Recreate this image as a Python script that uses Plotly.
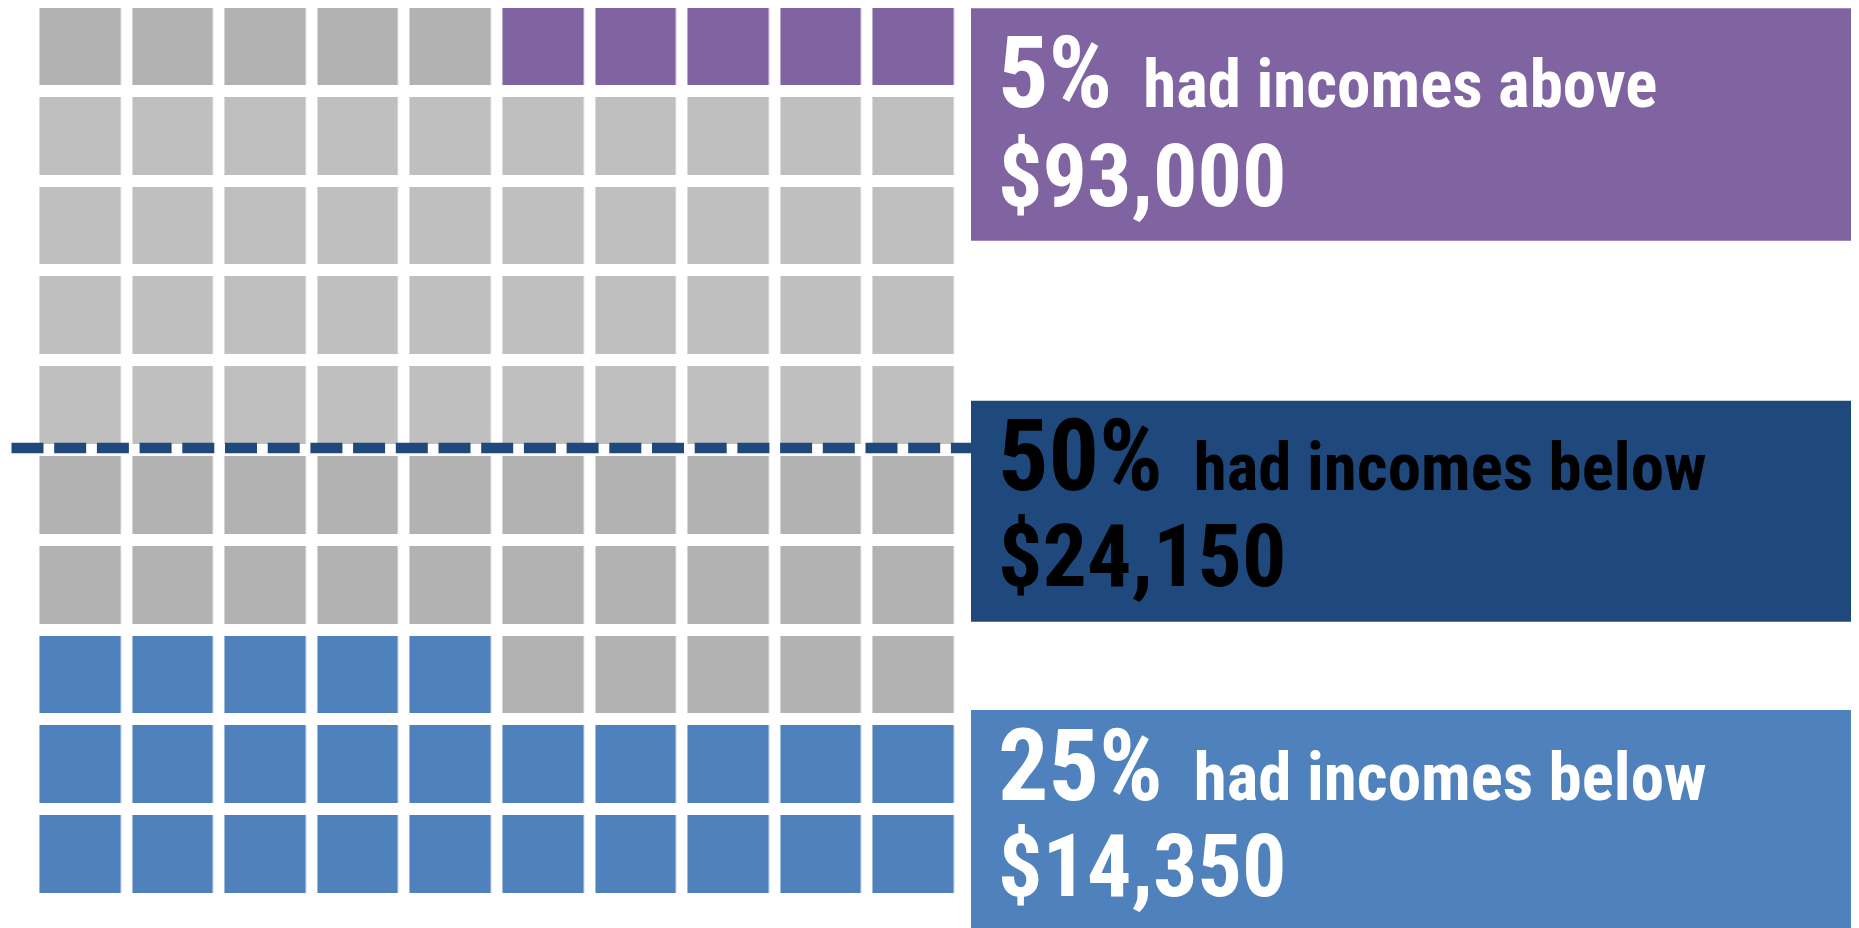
import plotly.graph_objects as go

# ---- data ----
bands = ["Bottom 25%", "25th-50th percentile", "50th-90th percentile", "90th-95th percentile", "Top 5%"]
squares = [25, 25, 40, 5, 5]
band_colors = ["#4F81BD", "#B2B2B2", "#BFBFBF", "#B2B2B2", "#8064A2"]

box_pct = ["5%", "50%", "25%"]
box_phrase = ["had incomes above", "had incomes below", "had incomes below"]
box_amount = ["$93,000", "$24,150", "$14,350"]
box_fill = ["#8064A2", "#1F497D", "#4F81BD"]
box_text_color = ["white", "black", "white"]

N_COLS, N_ROWS = 10, 10
W, H = 1859, 928
OFF = 8  # page body margin compensation


def px(x):
    return (x - OFF) / W


def py(y):
    return 1 - (y - OFF) / H


# ---- waffle grid (filled from bottom-left, row by row, ascending income) ----
z = [[None] * N_COLS for _ in range(N_ROWS)]
k = 0
for code, n in enumerate(squares):
    for _ in range(n):
        row_from_bottom = k // N_COLS
        col = k % N_COLS
        z[N_ROWS - 1 - row_from_bottom][col] = code
        k += 1

ncat = len(bands)
colorscale = []
for i, c in enumerate(band_colors):
    colorscale.append([i / ncat, c])
    colorscale.append([(i + 1) / ncat, c])

fig = go.Figure(go.Heatmap(
    z=z,
    x=list(range(N_COLS)),
    y=list(range(N_ROWS)),
    zmin=-0.5, zmax=ncat - 0.5,
    colorscale=colorscale,
    showscale=False,
    xgap=11.6, ygap=12,
    hoverinfo="skip",
))

# pixel layout of the grid (page pixels)
x0_px, pitch_x = 34.4 - OFF, 92.6
y0_px, pitch_y = 1.0 - OFF, 89.8
x_range = [-0.5 - x0_px / pitch_x, -0.5 + (W - x0_px) / pitch_x]
y_range = [-0.5 + (H - y0_px) / pitch_y, -0.5 - y0_px / pitch_y]

FONT = "Liberation Sans Narrow, Arial Narrow, Roboto Condensed, sans-serif"

shapes = []
annotations = []
box_y = [(8.3, 240.7), (400.7, 621.7), (710, 940)]
line1_base = [113, 496, 806]
line2_base = [209, 589, 899]
for i in range(3):
    t, b = box_y[i]
    shapes.append(dict(type="rect", xref="paper", yref="paper",
                       x0=px(971), x1=px(1880), y0=py(b), y1=py(t),
                       fillcolor=box_fill[i], line=dict(width=0), layer="below"))
    col = box_text_color[i]
    annotations.append(dict(
        xref="paper", yref="paper", x=px(996), y=py(line1_base[i] + 20),
        xanchor="left", yanchor="bottom", showarrow=False,
        text=f"<b><span style='font-size:100px'>{box_pct[i]}</span>&nbsp; {box_phrase[i]}</b>",
        font=dict(family=FONT, size=67, color=col), align="left"))
    annotations.append(dict(
        xref="paper", yref="paper", x=px(996), y=py(line2_base[i] + 20),
        xanchor="left", yanchor="bottom", showarrow=False,
        text=f"<b>{box_amount[i]}</b>",
        font=dict(family=FONT, size=88, color=col), align="left"))

# median dashed line
shapes.append(dict(type="line", xref="paper", yref="paper",
                   x0=px(11.5), x1=px(971), y0=py(448), y1=py(448),
                   line=dict(color="#1F497D", width=10.7, dash="32px,10.7px"), layer="above"))

fig.update_layout(
    width=W, height=H,
    margin=dict(l=0, r=0, t=0, b=0, pad=0),
    paper_bgcolor="white", plot_bgcolor="white",
    xaxis=dict(range=x_range, visible=False, showgrid=False, zeroline=False, fixedrange=True),
    yaxis=dict(range=y_range, visible=False, showgrid=False, zeroline=False, fixedrange=True),
    shapes=shapes,
    annotations=annotations,
    showlegend=False,
)

fig.write_html("out.html")
